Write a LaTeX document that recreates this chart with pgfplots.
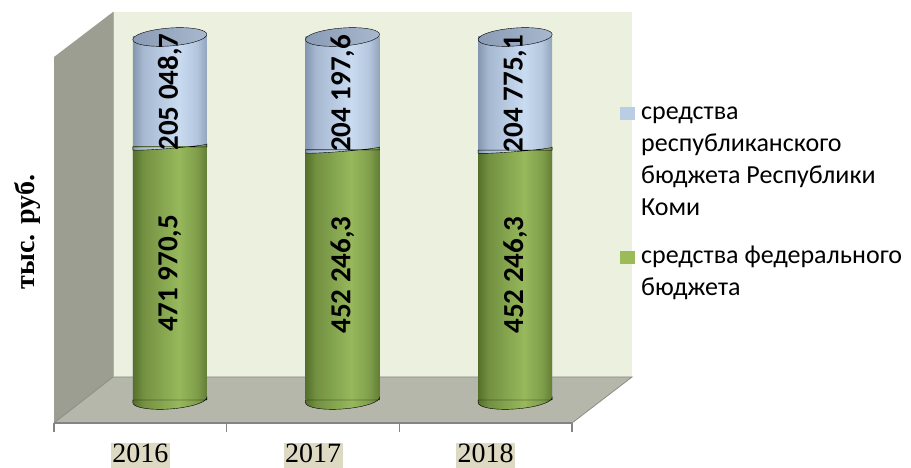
\documentclass[border=0pt]{standalone}
\usepackage{pgfplots}
\pgfplotsset{compat=1.18}
\usepackage{pgfplotstable}
\usepackage{fontspec}
\setmainfont{Liberation Serif}
\newfontfamily\calfont{Carlito}

% colours
\definecolor{wallback}{HTML}{EBF1DE}
\definecolor{wallside}{HTML}{9C9E92}
\definecolor{floorc}{HTML}{B4B7A9}
\definecolor{edgec}{HTML}{8C8C8C}
\definecolor{axisc}{HTML}{848484}
\definecolor{tickbg}{HTML}{DDD9C3}
\definecolor{fedmain}{HTML}{9BBB59}
\definecolor{repmain}{HTML}{B9CDE5}
\definecolor{gEdge}{HTML}{55702B}
\definecolor{gMid}{HTML}{97B85C}
\definecolor{bEdge}{HTML}{8597B0}
\definecolor{bMid}{HTML}{C9DBF1}
\definecolor{capL}{HTML}{8A9BB5}
\definecolor{capR}{HTML}{A8B8CE}

% cylinder body shadings (path bbox maps to 25bp..75bp)
\pgfdeclarehorizontalshading{fedcyl}{100bp}{color(0bp)=(gEdge); color(25bp)=(gEdge);
  color(32bp)=(gEdge!55!gMid); color(56bp)=(gMid); color(68bp)=(gEdge!35!gMid);
  color(75bp)=(gEdge!80!gMid); color(100bp)=(gEdge)}
\pgfdeclarehorizontalshading{repcyl}{100bp}{color(0bp)=(bEdge); color(25bp)=(bEdge);
  color(32bp)=(bEdge!50!bMid); color(56bp)=(bMid); color(68bp)=(bEdge!30!bMid);
  color(75bp)=(bEdge!80!bMid); color(100bp)=(bEdge)}
\pgfdeclarehorizontalshading{capshade}{100bp}{color(0bp)=(capL); color(25bp)=(capL);
  color(75bp)=(capR); color(100bp)=(capR)}

% tilted ellipses, traced every 10 degrees: x = 37 cos t, y = ry sin t + s cos t
% bottom of each cylinder: front arc below the bar, top edge level with the bar
\pgfdeclareplotmark{fedbase}{%
  \shade[shading=fedcyl]
    (-37pt,0pt) -- (-37pt,-2.59pt) -- (-36.44pt,-4.11pt) -- (-34.77pt,-5.51pt)
    -- (-32.04pt,-6.74pt) -- (-28.34pt,-7.77pt) -- (-23.78pt,-8.56pt) -- (-18.5pt,-9.09pt)
    -- (-12.65pt,-9.34pt) -- (-6.42pt,-9.31pt) -- (0pt,-9pt) -- (6.42pt,-8.41pt)
    -- (12.65pt,-7.57pt) -- (18.5pt,-6.5pt) -- (23.78pt,-5.23pt) -- (28.34pt,-3.8pt)
    -- (32.04pt,-2.26pt) -- (34.77pt,-0.64pt) -- (36.44pt,0.99pt) -- (37pt,2.59pt)
    -- (37pt,0pt) -- cycle;}
% joint of the two parts: the front arc is the border, both pieces end at the bar top
\pgfdeclareplotmark{joint}{%
  \shade[shading=repcyl]
    (-37pt,0pt) -- (-37pt,-2.96pt) -- (-36.44pt,-3.18pt) -- (-34.77pt,-3.29pt)
    -- (-32.04pt,-3.31pt) -- (-28.34pt,-3.23pt) -- (-23.78pt,-3.05pt) -- (-18.5pt,-2.78pt)
    -- (-12.65pt,-2.42pt) -- (-6.42pt,-1.99pt) -- (0pt,-1.5pt) -- (6.42pt,-0.96pt)
    -- (12.65pt,-0.4pt) -- (16.8pt,0pt) -- cycle;
  \shade[shading=fedcyl]
    (37pt,0pt) -- (37pt,2.96pt) -- (36.44pt,2.65pt) -- (34.77pt,2.27pt)
    -- (32.04pt,1.81pt) -- (28.34pt,1.3pt) -- (23.78pt,0.75pt) -- (18.5pt,0.18pt)
    -- (16.8pt,0pt) -- cycle;}
% top face of each cylinder
\pgfdeclareplotmark{reptop}{%
  \shade[shading=capshade]
    (37pt,2.59pt) -- (36.44pt,4.11pt) -- (34.77pt,5.51pt) -- (32.04pt,6.74pt)
    -- (28.34pt,7.77pt) -- (23.78pt,8.56pt) -- (18.5pt,9.09pt) -- (12.65pt,9.34pt)
    -- (6.42pt,9.31pt) -- (0pt,9pt) -- (-6.42pt,8.41pt) -- (-12.65pt,7.57pt)
    -- (-18.5pt,6.5pt) -- (-23.78pt,5.23pt) -- (-28.34pt,3.8pt) -- (-32.04pt,2.26pt)
    -- (-34.77pt,0.64pt) -- (-36.44pt,-0.99pt) -- (-37pt,-2.59pt) -- (-36.44pt,-4.11pt)
    -- (-34.77pt,-5.51pt) -- (-32.04pt,-6.74pt) -- (-28.34pt,-7.77pt) -- (-23.78pt,-8.56pt)
    -- (-18.5pt,-9.09pt) -- (-12.65pt,-9.34pt) -- (-6.42pt,-9.31pt) -- (0pt,-9pt)
    -- (6.42pt,-8.41pt) -- (12.65pt,-7.57pt) -- (18.5pt,-6.5pt) -- (23.78pt,-5.23pt)
    -- (28.34pt,-3.8pt) -- (32.04pt,-2.26pt) -- (34.77pt,-0.64pt) -- (36.44pt,0.99pt)
    -- cycle;}

\pgfplotstableread[col sep=semicolon]{
x;fed;rep;fedlab;replab
0;471970.5;205048.7;471 970,5;205 048,7
1;452246.3;204197.6;452 246,3;204 197,6
2;452246.3;204775.1;452 246,3;204 775,1
}\budget

\pgfplotsset{
  cyl/.style={ybar, bar shift=0pt, bar width=74pt, draw=none, shade},
  vlabel/.style={draw=none, mark=none, point meta=explicit symbolic,
    nodes near coords, nodes near coords style={anchor=center, rotate=90, text=black,
    font=\calfont\bfseries\fontsize{29}{29}\selectfont}},
}

\begin{document}
\begin{tikzpicture}
\path[use as bounding box] (0pt,0pt) rectangle (911pt,468pt);

% walls and floor
\fill[wallback] (113pt,91pt) rectangle (632pt,456pt);
\fill[wallside] (113pt,456pt) -- (113pt,91pt) -- (54pt,45pt) -- (54pt,411pt) -- cycle;
\fill[floorc] (113pt,91pt) -- (632pt,91pt) -- (572pt,45pt) -- (54pt,45pt) -- cycle;
\draw[edgec, line width=0.8pt] (54pt,45pt) -- (113pt,91pt) -- (632pt,91pt) -- (572pt,45pt);
\draw[edgec!70!white, line width=0.6pt] (113pt,91pt) -- (113pt,456pt);

% front axis with the years
\begin{axis}[
  at={(54pt,45pt)}, anchor=south west,
  scale only axis, width=518pt, height=20pt,
  xmin=-0.5, xmax=2.5, ymin=0, ymax=1,
  axis y line=none, axis x line*=bottom,
  x axis line style={draw=axisc, line width=1.4pt, -},
  xtick={-0.5,0.5,1.5,2.5}, x tick label as interval,
  xticklabels={2016,2017,2018},
  tick align=outside, major tick length=9pt,
  xtick style={draw=axisc, line width=1.2pt},
  ytick=\empty,
  xticklabel style={font=\fontsize{28}{28}\selectfont, fill=tickbg, yshift=-10.5pt,
    inner xsep=1.5pt, inner ysep=0pt, text height=20pt, text depth=8pt},
]
\addplot[draw=none] coordinates {(0,0.5)};
\end{axis}

% cylinders: share of each source in the year's total
\begin{axis}[
  at={(83.5pt,68pt)}, anchor=south west,
  scale only axis, width=518pt, height=363pt,
  xmin=-0.5, xmax=2.5, ymin=0, ymax=100,
  hide axis, clip=false,
]
\pgfplotsinvokeforeach{0,1,2}{
  % whole cylinder in the regional colour (total), then the federal part in front
  \addplot[cyl, shading=repcyl, restrict expr to domain={\coordindex}{#1:#1}]
    table[x=x, y expr={(\thisrow{fed}+\thisrow{rep})/(\thisrow{fed}+\thisrow{rep})*100}] {\budget};
  \addplot[cyl, shading=fedcyl, restrict expr to domain={\coordindex}{#1:#1}]
    table[x=x, y expr={\thisrow{fed}/(\thisrow{fed}+\thisrow{rep})*100}] {\budget};
}
\addplot[only marks, mark=fedbase] table[x=x, y expr=0] {\budget};
\addplot[only marks, mark=joint]
  table[x=x, y expr={\thisrow{fed}/(\thisrow{fed}+\thisrow{rep})*100}] {\budget};
\addplot[only marks, mark=reptop]
  table[x=x, y expr={(\thisrow{fed}+\thisrow{rep})/(\thisrow{fed}+\thisrow{rep})*100}] {\budget};
% value labels, centred in each segment
\addplot[vlabel]
  table[x=x, y expr={\thisrow{fed}/(\thisrow{fed}+\thisrow{rep})*50}, meta=fedlab] {\budget};
\addplot[vlabel]
  table[x=x, y expr={(\thisrow{fed}+0.5*\thisrow{rep})/(\thisrow{fed}+\thisrow{rep})*100}, meta=replab] {\budget};
\end{axis}

% axis title
\node[rotate=90, font=\bfseries\fontsize{28}{28}\selectfont] at (27pt,236pt) {тыс. руб.};

% legend
\fill[repmain] (620pt,348pt) rectangle (635pt,361pt);
\fill[fedmain] (620pt,204pt) rectangle (635pt,217pt);
\begin{scope}[every node/.style={anchor=base west, inner sep=0pt,
    font=\calfont\fontsize{26}{26}\selectfont}]
\node at (641pt,348pt) {средства};
\node at (641pt,316pt) {республиканского};
\node at (641pt,284pt) {бюджета Республики};
\node at (641pt,252pt) {Коми};
\node at (641pt,204pt) {средства федерального};
\node at (641pt,172pt) {бюджета};
\end{scope}
\end{tikzpicture}
\end{document}
